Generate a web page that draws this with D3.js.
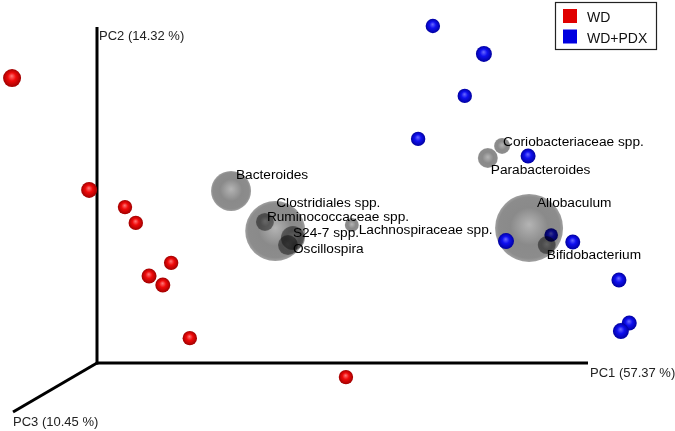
<!DOCTYPE html>
<html>
<head>
<meta charset="utf-8">
<script src="https://cdn.jsdelivr.net/npm/d3@7"></script>
<style>
  html, body { margin: 0; padding: 0; background: #fff; }
  svg { display: block; font-family: "Liberation Sans", Arial, Helvetica, sans-serif; }
</style>
</head>
<body>
<svg id="chart" width="675" height="431"></svg>
<script>
// ---- DATA (projected PC1 / PC2 coordinates in axis units, depth for perspective) ----
const groups = ["WD", "WD+PDX"];
const groupColors = ["#e00000", "#0000e0"];

const wdPC1 = [-0.173, -0.016, 0.057, 0.079, 0.151, 0.106, 0.134, 0.189, 0.507];
const wdPC2 = [0.848, 0.515, 0.464, 0.417, 0.298, 0.259, 0.232, 0.074, -0.042];
const wdDepth = [0.5, 0.0, -0.4, -0.4, -0.4, -0.25, -0.25, -0.4, -0.4];

const pdxPC1 = [0.684, 0.788, 0.749, 0.654, 0.878, 0.833, 0.925, 0.969, 1.063, 1.084, 1.067];
const pdxPC2 = [1.003, 0.920, 0.795, 0.667, 0.616, 0.363, 0.381, 0.360, 0.247, 0.119, 0.095];
const pdxDepth = [-0.4, 0.0, -0.4, -0.4, -0.25, 0.0, -0.6, -0.25, -0.25, -0.25, 0.0];

const taxa = ["Bacteroides", "Clostridiales spp.", "Ruminococcaceae spp.", "S24-7 spp.", "Oscillospira",
              "Lachnospiraceae spp.", "Coriobacteriaceae spp.", "Parabacteroides", "Allobaculum", "Bifidobacterium"];
const taxaPC1 = [0.273, 0.363, 0.342, 0.399, 0.389, 0.519, 0.825, 0.796, 0.880, 0.916];
const taxaPC2 = [0.512, 0.393, 0.420, 0.372, 0.351, 0.411, 0.646, 0.610, 0.402, 0.351];
const taxaAbund = [20, 30, 9, 12, 10, 7, 8, 10, 34, 9];
const labelPC1 = [0.283, 0.365, 0.346, 0.399, 0.399, 0.533, 0.827, 0.802, 0.896, 0.916];
const labelPC2 = [0.548, 0.464, 0.423, 0.375, 0.327, 0.384, 0.646, 0.5625, 0.464, 0.310];

const axisLabels = ["PC1 (57.37 %)", "PC2 (14.32 %)", "PC3 (10.45 %)"];
const pc3Dir = [-0.171, -0.146];

// ---- SCALES ----
const svg = d3.select("#chart");
const x = d3.scaleLinear().domain([0, 1]).range([97, 588]);
const y = d3.scaleLinear().domain([0, 1]).range([363, 27]);
const r = d3.scaleLinear().domain([-1, 1]).range([6, 10]);
const rt = d3.scaleLinear().domain([0, 34]).range([0, 34]);

// ---- GRADIENTS ----
const defs = svg.append("defs");
function sphereGrad(id, c0, c1, c2) {
  const g = defs.append("radialGradient").attr("id", id)
    .attr("cx", "50%").attr("cy", "50%").attr("r", "50%")
    .attr("fx", "48%").attr("fy", "38%");
  g.append("stop").attr("offset", "0%").attr("stop-color", c0);
  g.append("stop").attr("offset", "45%").attr("stop-color", c1);
  g.append("stop").attr("offset", "100%").attr("stop-color", c2);
}
sphereGrad("gWD", "#ff7a7a", "#f00a0a", "#a00000");
sphereGrad("gPDX", "#6a6aff", "#1010f0", "#0000a0");
const tg = defs.append("radialGradient").attr("id", "gTaxa")
  .attr("cx", "50%").attr("cy", "50%").attr("r", "50%").attr("fx", "50%").attr("fy", "45%");
tg.append("stop").attr("offset", "0%").attr("stop-color", "#b4b4b4");
tg.append("stop").attr("offset", "55%").attr("stop-color", "#8a8a8a");
tg.append("stop").attr("offset", "90%").attr("stop-color", "#8c8c8c");
tg.append("stop").attr("offset", "100%").attr("stop-color", "#a0a0a0");

// ---- AXES ----
const axes = svg.append("g").attr("stroke", "#000").attr("stroke-width", 3).attr("stroke-linecap", "butt");
axes.append("line").attr("x1", x(0)).attr("y1", y(0)).attr("x2", x(1)).attr("y2", y(0));
axes.append("line").attr("x1", x(0)).attr("y1", y(0) + 1.5).attr("x2", x(0)).attr("y2", y(1));
axes.append("line").attr("x1", x(0)).attr("y1", y(0)).attr("x2", x(pc3Dir[0])).attr("y2", y(pc3Dir[1]));

const axText = svg.append("g").attr("font-size", 13).attr("fill", "#222");
axText.append("text").attr("x", x(1) + 2).attr("y", y(0) + 14).text(axisLabels[0]);
axText.append("text").attr("x", x(0) + 2).attr("y", y(1) + 13).text(axisLabels[1]);
axText.append("text").attr("x", x(pc3Dir[0])).attr("y", y(pc3Dir[1]) + 14).text(axisLabels[2]);

// ---- SAMPLES ----
const samples = [];
wdPC1.forEach((v, i) => samples.push({g: 0, x: v, y: wdPC2[i], z: wdDepth[i]}));
pdxPC1.forEach((v, i) => samples.push({g: 1, x: v, y: pdxPC2[i], z: pdxDepth[i]}));
samples.sort((a, b) => a.z - b.z);
const taxaDepth = -0.5;

function drawSamples(list) {
  svg.append("g").selectAll("circle").data(list).join("circle")
    .attr("cx", d => x(d.x)).attr("cy", d => y(d.y)).attr("r", d => r(d.z))
    .attr("fill", d => d.g === 0 ? "url(#gWD)" : "url(#gPDX)");
}
drawSamples(samples.filter(d => d.z < taxaDepth));

// ---- TAXA SPHERES (translucent) ----
const taxaData = taxa.map((t, i) => ({name: t, x: taxaPC1[i], y: taxaPC2[i], s: taxaAbund[i], lx: labelPC1[i], ly: labelPC2[i]}));
svg.append("g").selectAll("circle").data(taxaData.slice().sort((a, b) => b.s - a.s)).join("circle")
  .attr("cx", d => x(d.x)).attr("cy", d => y(d.y)).attr("r", d => rt(d.s))
  .attr("fill", "url(#gTaxa)")
  .style("mix-blend-mode", "multiply");

drawSamples(samples.filter(d => d.z >= taxaDepth));

// ---- TAXA LABELS ----
svg.append("g").attr("font-size", 13.7).attr("fill", "#000")
  .selectAll("text").data(taxaData).join("text")
  .attr("x", d => x(d.lx)).attr("y", d => y(d.ly)).text(d => d.name);

// ---- LEGEND ----
const lg = svg.append("g");
lg.append("rect").attr("x", 555.5).attr("y", 2.5).attr("width", 101).attr("height", 47)
  .attr("fill", "#fff").attr("stroke", "#222").attr("stroke-width", 1.2);
groups.forEach((gname, i) => {
  lg.append("rect").attr("x", 563).attr("y", 9 + i * 20.5).attr("width", 14).attr("height", 14).attr("fill", groupColors[i]);
  lg.append("text").attr("x", 587).attr("y", 22 + i * 21).attr("font-size", 14).attr("fill", "#111").text(gname);
});
</script>
</body>
</html>
